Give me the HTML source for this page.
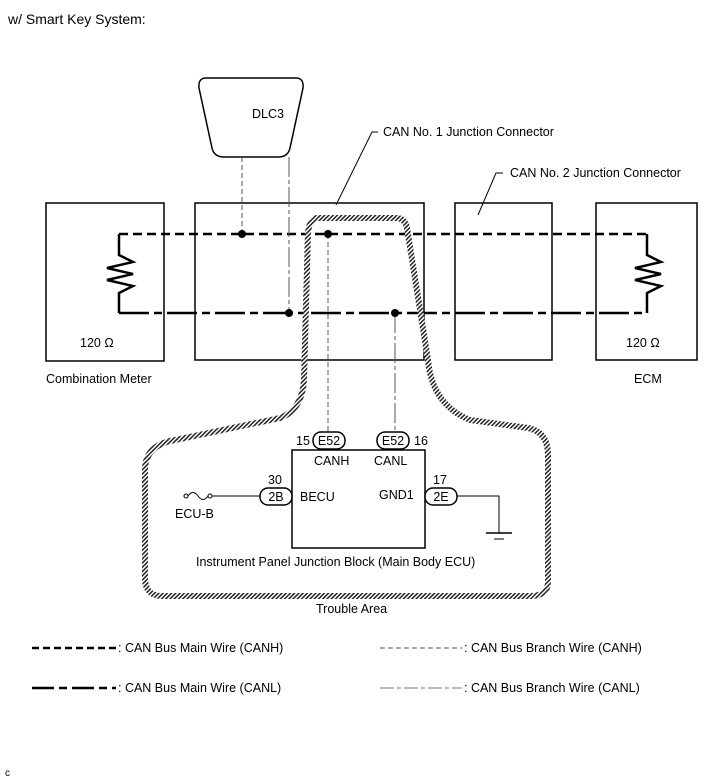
<!DOCTYPE html>
<html><head><meta charset="utf-8"><style>
html,body{margin:0;padding:0;background:#fff}
svg{display:block}
text{font-family:"Liberation Sans",Arial,sans-serif;font-size:12.5px;fill:#000}
</style></head><body>
<svg width="713" height="782" viewBox="0 0 713 782" xmlns="http://www.w3.org/2000/svg">
<defs>
<pattern id="h" width="3" height="3" patternUnits="userSpaceOnUse" patternTransform="rotate(45)">
<rect width="3" height="3" fill="#fff"/><rect width="1.5" height="3" fill="#222"/>
</pattern>
</defs>
<text x="8" y="24" style="font-size:14px">w/ Smart Key System:</text>

<!-- DLC3 -->
<path d="M206,78 L296,78 Q304,78 303,88 L290,148 Q288,157 278,157 L224,157 Q214,157 212,148 L199,88 Q198,78 206,78 Z" fill="#fff" stroke="#000" stroke-width="1.5"/>
<text x="268" y="118" text-anchor="middle">DLC3</text>

<!-- Boxes -->
<rect x="46" y="203" width="118" height="158" fill="none" stroke="#000" stroke-width="1.5"/>
<rect x="195" y="203" width="229" height="157" fill="none" stroke="#000" stroke-width="1.5"/>
<rect x="455" y="203" width="97" height="157" fill="none" stroke="#000" stroke-width="1.5"/>
<rect x="596" y="203" width="101" height="157" fill="none" stroke="#000" stroke-width="1.5"/>

<!-- leaders -->
<polyline points="336,205 372,132 378,132" fill="none" stroke="#000" stroke-width="1"/>
<text x="383" y="136">CAN No. 1 Junction Connector</text>
<polyline points="478,215 496,173 503,173" fill="none" stroke="#000" stroke-width="1"/>
<text x="510" y="177">CAN No. 2 Junction Connector</text>

<!-- resistors -->
<polyline points="119,234 119,255 133,262 107,268 133,274 107,280 133,286 119,293 119,313" fill="none" stroke="#000" stroke-width="2.5"/>
<polyline points="647,234 647,255 661,262 635,268 661,274 635,280 661,286 647,293 647,313" fill="none" stroke="#000" stroke-width="2.5"/>

<!-- main wires -->
<line x1="119" y1="234" x2="647" y2="234" stroke="#000" stroke-width="2.5" stroke-dasharray="9,5"/>
<line x1="119" y1="313" x2="647" y2="313" stroke="#000" stroke-width="2.5" stroke-dasharray="30,5,8,5"/>

<!-- branch wires -->
<line x1="242" y1="157" x2="242" y2="234" stroke="#555" stroke-width="1" stroke-dasharray="5,3"/>
<line x1="289" y1="157" x2="289" y2="313" stroke="#555" stroke-width="1" stroke-dasharray="20,3,4,3"/>
<line x1="328" y1="234" x2="328" y2="432" stroke="#555" stroke-width="1" stroke-dasharray="5,3"/>
<line x1="395" y1="313" x2="395" y2="432" stroke="#555" stroke-width="1" stroke-dasharray="20,3,4,3"/>

<circle cx="242" cy="234" r="4"/><circle cx="328" cy="234" r="4"/>
<circle cx="289" cy="313" r="4"/><circle cx="395" cy="313" r="4"/>

<!-- trouble area -->
<path d="M318,218 L396,218 Q405,218 407,228 L428,360 Q432,405 470,420 L528,428 Q548,432 548,455 L548,582 Q548,596 530,596 L162,596 Q145,596 145,578 L145,470 Q145,445 175,440 L280,418 Q302,410 304,380 L308,232 Q310,218 318,218 Z" fill="none" stroke="url(#h)" stroke-width="6"/>

<!-- ECU -->
<rect x="292" y="450" width="133" height="98" fill="#fff" stroke="#000" stroke-width="1.5"/>
<rect x="313" y="432" width="32" height="17" rx="8" fill="#fff" stroke="#000" stroke-width="1.5"/>
<text x="329" y="445" text-anchor="middle">E52</text>
<text x="296" y="445">15</text>
<rect x="377" y="432" width="32" height="17" rx="8" fill="#fff" stroke="#000" stroke-width="1.5"/>
<text x="393" y="445" text-anchor="middle">E52</text>
<text x="414" y="445">16</text>
<text x="314" y="465">CANH</text>
<text x="374" y="465">CANL</text>
<rect x="260" y="488" width="32" height="17" rx="8" fill="#fff" stroke="#000" stroke-width="1.5"/>
<text x="276" y="501" text-anchor="middle">2B</text>
<text x="268" y="484">30</text>
<text x="300" y="501">BECU</text>
<rect x="425" y="488" width="32" height="17" rx="8" fill="#fff" stroke="#000" stroke-width="1.5"/>
<text x="441" y="501" text-anchor="middle">2E</text>
<text x="433" y="484">17</text>
<text x="379" y="499">GND1</text>
<line x1="212" y1="496" x2="260" y2="496" stroke="#000" stroke-width="1"/>
<circle cx="186" cy="496" r="2" fill="#fff" stroke="#000"/><circle cx="210" cy="496" r="2" fill="#fff" stroke="#000"/>
<path d="M188,496 Q193,489 198,496 T208,496" fill="none" stroke="#000"/>
<text x="175" y="518">ECU-B</text>
<polyline points="457,496 499,496 499,533" fill="none" stroke="#000" stroke-width="1"/>
<line x1="486" y1="533" x2="512" y2="533" stroke="#000" stroke-width="1.5"/>
<line x1="494" y1="539" x2="504" y2="539" stroke="#000" stroke-width="1"/>
<text x="196" y="566">Instrument Panel Junction Block (Main Body ECU)</text>
<text x="316" y="613">Trouble Area</text>

<text x="46" y="383">Combination Meter</text>
<text x="80" y="347">120 Ω</text>
<text x="626" y="347">120 Ω</text>
<text x="634" y="383">ECM</text>

<!-- legend -->
<line x1="32" y1="648" x2="116" y2="648" stroke="#000" stroke-width="2.5" stroke-dasharray="7,4"/>
<text x="118" y="652">: CAN Bus Main Wire (CANH)</text>
<line x1="32" y1="688" x2="116" y2="688" stroke="#000" stroke-width="2.5" stroke-dasharray="22,5,8,5"/>
<text x="118" y="692">: CAN Bus Main Wire (CANL)</text>
<line x1="380" y1="648" x2="462" y2="648" stroke="#555" stroke-width="1" stroke-dasharray="5,3"/>
<text x="464" y="652">: CAN Bus Branch Wire (CANH)</text>
<line x1="380" y1="688" x2="462" y2="688" stroke="#777" stroke-width="1" stroke-dasharray="14,3,4,3"/>
<text x="464" y="692">: CAN Bus Branch Wire (CANL)</text>
<text x="5" y="776" style="font-size:10px">c</text>
</svg>
</body></html>
